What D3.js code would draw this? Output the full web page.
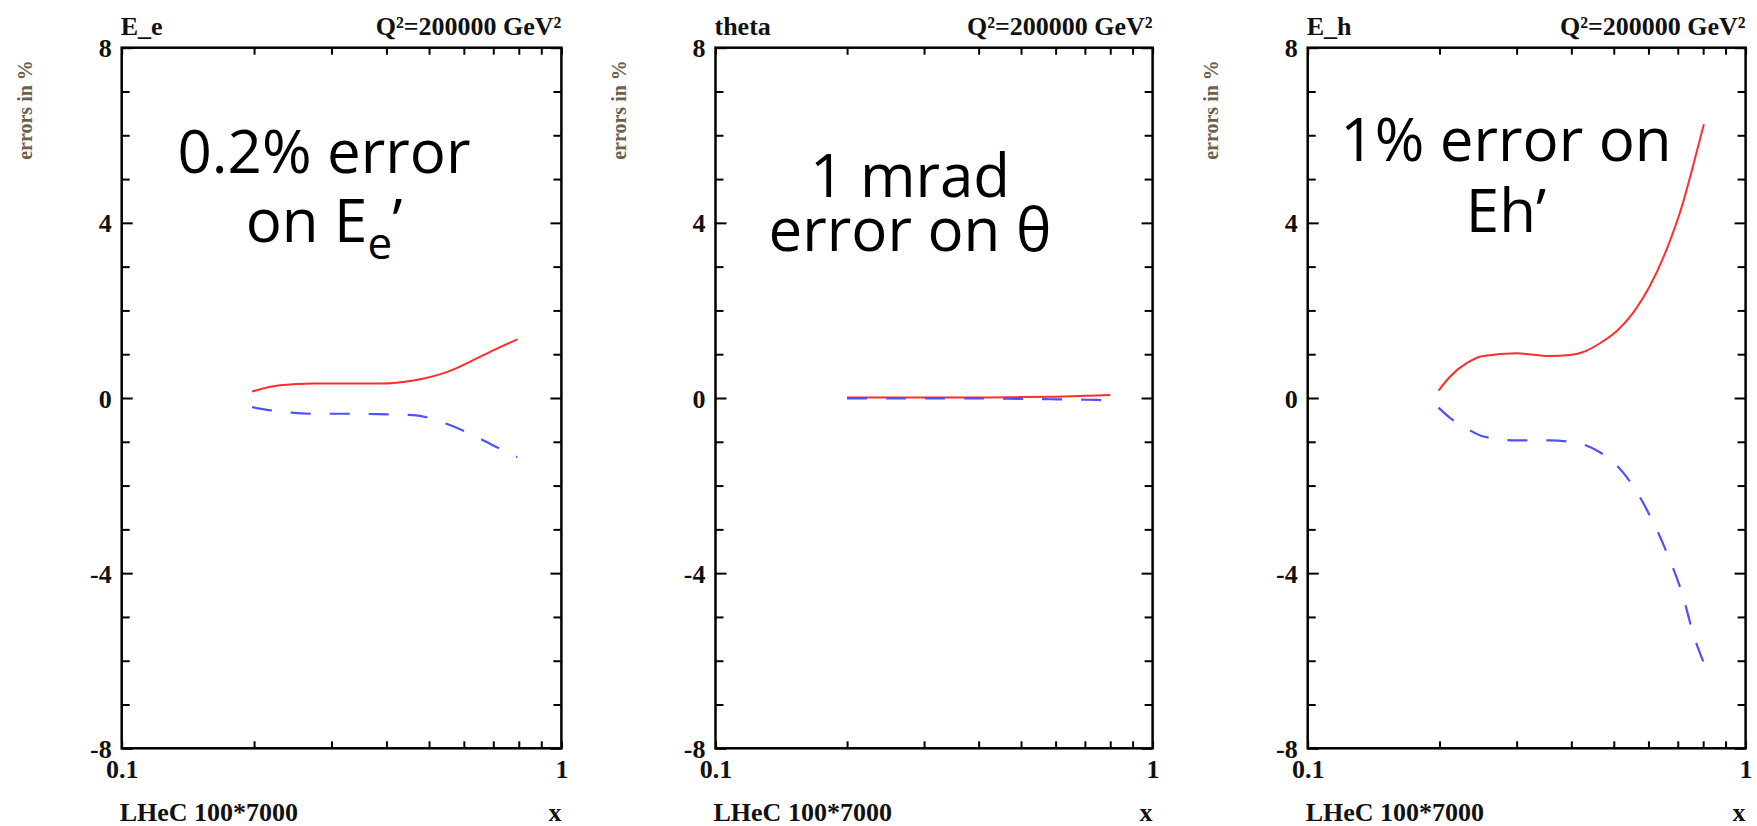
<!DOCTYPE html>
<html lang="en">
<head>
<meta charset="UTF-8">
<title>LHeC 100*7000 errors</title>
<script src="https://cdnjs.cloudflare.com/ajax/libs/d3/7.8.5/d3.min.js"></script>
<style>
  body { margin: 0; background: #fff; }
  svg { display: block; }
  .lbl { font-family: "Liberation Serif", "Times New Roman", serif; font-weight: bold; font-size: 26px; fill: #111; }
  .ylab { font-family: "Liberation Serif", serif; font-weight: bold; font-size: 20px; fill: #6b604c; }
  .note { font-family: "Open Sans", sans-serif; font-size: 60px; fill: #000; }
</style>
</head>
<body>
<svg width="1757" height="826"></svg>
<script>
// values
const panelNames = ["E_e", "theta", "E_h"];
const q2Label = "Q²=200000 GeV²";
const yTickLabels = [8, 4, 0, -4, -8];
const yTicks = d3.range(-8, 9, 1);
const xTicks = [0.1, 0.2, 0.3, 0.4, 0.5, 0.6, 0.7, 0.8, 0.9, 1];

const eeX    = [0.198, 0.229, 0.273, 0.325, 0.387, 0.461, 0.548, 0.653, 0.725, 0.794];
const eeUp   = [0.15, 0.29, 0.33, 0.33, 0.33, 0.40, 0.59, 0.94, 1.16, 1.34];
const eeDown = [-0.21, -0.31, -0.36, -0.36, -0.37, -0.39, -0.59, -0.93, -1.16, -1.35];

const thetaX    = [0.2, 0.25, 0.3, 0.4, 0.5, 0.6, 0.7, 0.8];
const thetaUp   = [0.01, 0.01, 0.01, 0.01, 0.02, 0.03, 0.05, 0.07];
const thetaDown = [-0.01, -0.01, -0.01, -0.01, -0.02, -0.03, -0.04, -0.05];

const ehX    = [0.199, 0.211, 0.231, 0.252, 0.300, 0.357, 0.397, 0.426, 0.465, 0.508, 0.554, 0.604, 0.660, 0.720, 0.759, 0.803];
const ehUp   = [0.17, 0.48, 0.80, 0.96, 1.02, 0.96, 0.98, 1.05, 1.25, 1.53, 1.95, 2.55, 3.39, 4.47, 5.31, 6.25];
const ehDown = [-0.22, -0.45, -0.70, -0.88, -0.97, -0.97, -1.00, -1.06, -1.24, -1.54, -2.02, -2.68, -3.52, -4.54, -5.38, -6.05];

const series = [
  { x: eeX, up: eeUp, down: eeDown },
  { x: thetaX, up: thetaUp, down: thetaDown },
  { x: ehX, up: ehUp, down: ehDown }
];

// layout of the three frames; note = [line1, line2, centre x, baseline 1, baseline 2]
const panels = [
  { left: 121.7, right: 561.4, note: ["0.2% error", "on E", 324, 172.7, 241.7] },
  { left: 715.5, right: 1152.6, note: ["1 mrad", "error on θ", 910, 197, 251] },
  { left: 1307.7, right: 1745.6, note: ["1% error on", "Eh’", 1506, 161, 232] }
];
const yTop = 47.7, yBottom = 748.3;

const svg = d3.select("svg");

panels.forEach((p, i) => {
  const x = d3.scaleLog().domain([0.1, 1]).range([p.left, p.right]);
  const y = d3.scaleLinear().domain([-8, 8]).range([yBottom, yTop]);
  const g = svg.append("g");

  // axes with inward ticks
  const major = d => yTickLabels.includes(d);
  const left = g.append("g").attr("transform", `translate(${p.left},0)`)
    .call(d3.axisLeft(y).tickValues(yTicks).tickSizeInner(-8).tickSizeOuter(0).tickPadding(10)
      .tickFormat(d => major(d) ? d : ""));
  const right = g.append("g").attr("transform", `translate(${p.right},0)`)
    .call(d3.axisRight(y).tickValues(yTicks).tickSizeInner(-8).tickSizeOuter(0).tickFormat(""));
  left.selectAll(".tick line").filter(major).attr("x2", 11);
  right.selectAll(".tick line").filter(major).attr("x2", -11);

  g.append("g").attr("transform", `translate(0,${yBottom})`)
    .call(d3.axisBottom(x).tickValues(xTicks).tickSizeInner(-7).tickSizeOuter(0).tickPadding(11)
      .tickFormat(d => d === 0.1 ? "0.1" : d === 1 ? "1" : ""));
  g.append("g").attr("transform", `translate(0,${yTop})`)
    .call(d3.axisTop(x).tickValues(xTicks).tickSizeInner(-7).tickSizeOuter(0).tickFormat(""));

  g.selectAll(".domain").remove();
  g.selectAll(".tick line").attr("stroke", "#000").attr("stroke-width", 2);
  g.selectAll(".tick text").attr("class", "lbl").attr("fill", null);
  g.selectAll("g").attr("font-family", null).attr("font-size", null);
  left.selectAll(".tick text").attr("dy", "0.35em");

  g.append("rect")
    .attr("x", p.left).attr("y", yTop)
    .attr("width", p.right - p.left).attr("height", yBottom - yTop)
    .attr("fill", "none").attr("stroke", "#000").attr("stroke-width", 2.5);

  // titles
  g.append("text").attr("class", "lbl").attr("x", p.left - 1).attr("y", 35).text(panelNames[i]);
  g.append("text").attr("class", "lbl").attr("x", p.right).attr("y", 35)
    .attr("text-anchor", "end").text(q2Label);
  g.append("text").attr("class", "lbl").attr("x", p.left - 2).attr("y", 821).text("LHeC 100*7000");
  g.append("text").attr("class", "lbl").attr("x", p.right).attr("y", 821)
    .attr("text-anchor", "end").text("x");
  g.append("text").attr("class", "ylab")
    .attr("transform", `translate(${p.left - 90},110) rotate(-90)`)
    .attr("text-anchor", "middle").text("errors in %");

  // curves
  const s = series[i];
  const line = d3.line().x(d => x(d[0])).y(d => y(d[1])).curve(d3.curveMonotoneX);
  g.append("path").datum(d3.zip(s.x, s.up))
    .attr("d", line).attr("fill", "none")
    .attr("stroke", "#ff2d2d").attr("stroke-width", 2);
  g.append("path").datum(d3.zip(s.x, s.down))
    .attr("d", line).attr("fill", "none")
    .attr("stroke", "#5050ff").attr("stroke-width", 2.2)
    .attr("stroke-dasharray", "20 19");

  // annotation, two lines in one text element
  const [l1, l2, cx, b1, b2] = p.note;
  const txt = g.append("text").attr("class", "note").attr("text-anchor", "middle");
  txt.append("tspan").attr("x", cx).attr("y", b1).text(l1);
  const second = txt.append("tspan").attr("x", cx).attr("y", b2);
  if (i === 0) {
    second.append("tspan").text(l2);
    second.append("tspan").attr("font-size", "44px").attr("dy", 17).text("e");
    second.append("tspan").attr("dy", -17).text("’");
  } else {
    second.text(l2);
  }
});
</script>
</body>
</html>
